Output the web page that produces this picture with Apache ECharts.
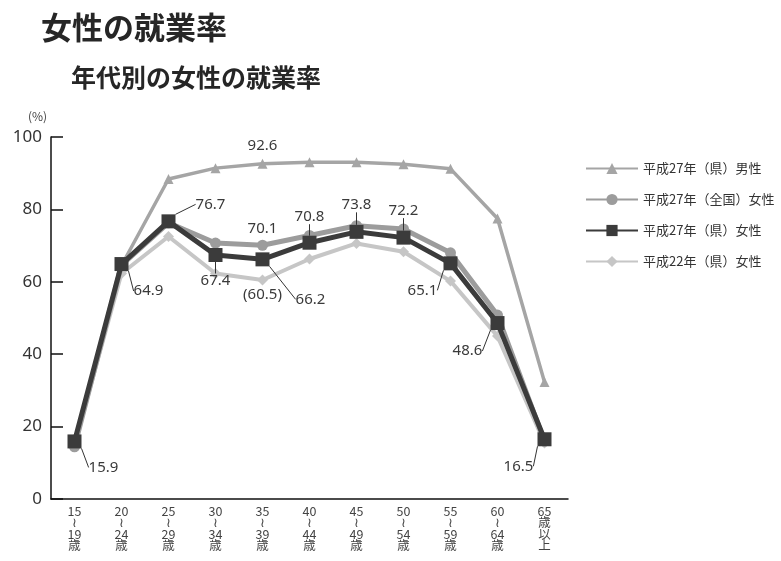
<!DOCTYPE html>
<html><head><meta charset="utf-8">
<script src="https://cdn.jsdelivr.net/npm/echarts/dist/echarts.min.js"></script>
<style>html,body{margin:0;padding:0;background:#fff}#c{width:781px;height:561px}</style>
</head><body><div id="c"></div>
<script>
const categories = ['15\n≀\n19\n歳','20\n≀\n24\n歳','25\n≀\n29\n歳','30\n≀\n34\n歳','35\n≀\n39\n歳','40\n≀\n44\n歳','45\n≀\n49\n歳','50\n≀\n54\n歳','55\n≀\n59\n歳','60\n≀\n64\n歳','65\n歳\n以\n上'];
const seriesNames = ['平成27年（県）男性','平成27年（全国）女性','平成27年（県）女性','平成22年（県）女性'];
const maleH27 = [15.5, 64.5, 88.4, 91.4, 92.6, 93.0, 93.0, 92.5, 91.2, 77.5, 32.3];
const nationalH27 = [14.4, 64.6, 76.3, 70.7, 70.1, 72.8, 75.5, 74.6, 68.0, 50.8, 16.0];
const prefH27 = [15.9, 64.9, 76.7, 67.4, 66.2, 70.8, 73.8, 72.2, 65.1, 48.6, 16.5];
const prefH22 = [15.2, 62.3, 72.5, 62.3, 60.5, 66.3, 70.6, 68.3, 60.2, 45.0, 15.5];
const labeledMale = [4];
const labeledNational = [4];
const labeledH22 = [4];
const yMin = 0, yMax = 100, yStep = 20;

// label offsets (style): [dx, dy] from point to label centre
const prefOffsets = [[29,26],[27,27],[42,-17],[0,26],[48,40],[0,-26],[0,-27],[0,-27],[-28,27],[-30,28],[-26,27]];
const singleOffsets = {0:[0,-18], 1:[0,-17], 3:[0,15]};

function itemsFor(values, labeledIdx, fmt) {
  return values.map((v, i) => labeledIdx.indexOf(i) >= 0
    ? {value: v, label: {show: true, formatter: fmt}}
    : {value: v});
}

const numFont = {fontSize: 15, color: '#3a3a3a', fontFamily: 'Noto Sans, sans-serif'};

const chart = echarts.init(document.getElementById('c'), null, {renderer: 'canvas'});
chart.setOption({
  animation: false,
  backgroundColor: '#fff',
  title: [
    {text: '女性の就業率', left: 36, top: 7, textStyle: {fontSize: 31, fontWeight: 'bold', color: '#262626', fontFamily: 'Noto Sans CJK JP'}},
    {text: '年代別の女性の就業率', left: 66, top: 60, textStyle: {fontSize: 25, fontWeight: 'bold', color: '#262626', fontFamily: 'Noto Sans CJK JP'}},
    {text: '(%)', left: 23, top: 105, textStyle: {fontSize: 12, fontWeight: 'normal', color: '#444', fontFamily: 'Noto Sans CJK JP'}}
  ],
  legend: {
    orient: 'vertical', left: 580, top: 157, itemWidth: 52, itemHeight: 14, itemGap: 18,
    selectedMode: false, data: seriesNames,
    textStyle: {fontSize: 13, color: '#333', fontFamily: 'Noto Sans CJK JP'}
  },
  grid: {left: 51, right: 213, top: 137, bottom: 62},
  xAxis: {
    type: 'category', data: categories, boundaryGap: true,
    axisLine: {lineStyle: {color: '#111', width: 1.5}},
    axisTick: {show: false},
    axisLabel: {interval: 0, fontSize: 12.5, lineHeight: 11.5, margin: 6, color: '#444', fontFamily: 'Noto Sans CJK JP'}
  },
  yAxis: {
    type: 'value', min: yMin, max: yMax, interval: yStep,
    axisLine: {show: true, lineStyle: {color: '#111', width: 1.5}},
    axisTick: {show: true, inside: true, length: 12, lineStyle: {color: '#111', width: 1.5}},
    axisLabel: {fontSize: 17, color: '#333', margin: 9, fontFamily: 'Noto Sans, sans-serif'},
    splitLine: {show: false}
  },
  series: [
    {
      name: seriesNames[3], type: 'line', z: 2,
      data: itemsFor(prefH22, labeledH22, p => '(' + p.value.toFixed(1) + ')'),
      symbol: 'diamond', symbolSize: 11,
      lineStyle: {color: '#c6c6c6', width: 4}, itemStyle: {color: '#c6c6c6'},
      label: Object.assign({show: false, position: 'inside'}, numFont),
      labelLayout: p => ({dx: singleOffsets[3][0], dy: singleOffsets[3][1]})
    },
    {
      name: seriesNames[0], type: 'line', z: 3,
      data: itemsFor(maleH27, labeledMale, p => p.value.toFixed(1)),
      symbol: 'triangle', symbolSize: 10,
      lineStyle: {color: '#a5a5a5', width: 3.5}, itemStyle: {color: '#a5a5a5'},
      label: Object.assign({show: false, position: 'inside'}, numFont),
      labelLayout: p => ({dx: singleOffsets[0][0], dy: singleOffsets[0][1]})
    },
    {
      name: seriesNames[1], type: 'line', z: 4,
      data: itemsFor(nationalH27, labeledNational, p => p.value.toFixed(1)),
      symbol: 'circle', symbolSize: 11,
      lineStyle: {color: '#9c9c9c', width: 5}, itemStyle: {color: '#9c9c9c'},
      label: Object.assign({show: false, position: 'inside'}, numFont),
      labelLayout: p => ({dx: singleOffsets[1][0], dy: singleOffsets[1][1]})
    },
    {
      name: seriesNames[2], type: 'line', z: 5,
      data: prefH27,
      symbol: 'rect', symbolSize: 14,
      lineStyle: {color: '#3b3b3b', width: 5}, itemStyle: {color: '#3b3b3b'},
      label: Object.assign({show: true, position: 'inside', formatter: p => p.value.toFixed(1)}, numFont),
      labelLine: {show: true, lineStyle: {color: '#333', width: 1}},
      labelLayout: p => ({dx: prefOffsets[p.dataIndex][0], dy: prefOffsets[p.dataIndex][1]})
    }
  ]
});
</script></body></html>
